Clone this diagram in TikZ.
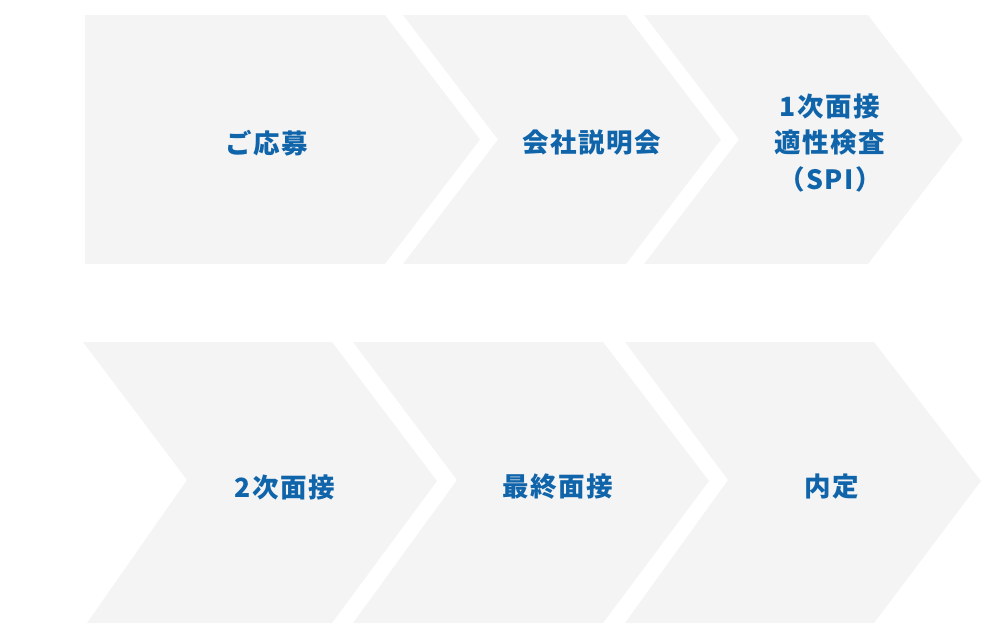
\documentclass[tikz,border=0pt]{standalone}
\usepackage{fontspec}
\newfontfamily\jpfont{Noto Sans CJK JP}[LetterSpace=6]
\definecolor{stepblue}{RGB}{16,100,170}
\definecolor{stepgray}{RGB}{244,244,244}

\begin{document}
\begin{tikzpicture}[x=1pt,y=-1pt]
  \tikzstyle{chevron}=[fill=stepgray]
  \tikzstyle{steplabel}=[text=stepblue,align=center,inner sep=0pt,
    font=\jpfont\bfseries\fontsize{26.5}{36.5}\selectfont]
  \useasboundingbox (0,0) rectangle (1000,641);

  % top row
  \fill[chevron] (85,15) -- (385,15) -- (480,139.5) -- (385,264) -- (85,264) -- cycle;
  \fill[chevron] (403,15) -- (626,15) -- (721,139.5) -- (626,264) -- (403,264) -- (498,139.5) -- cycle;
  \fill[chevron] (644,15) -- (868,15) -- (963,139.5) -- (868,264) -- (644,264) -- (739,139.5) -- cycle;

  % bottom row
  \fill[chevron] (83,342) -- (332,342) -- (437,481) -- (332,623) -- (87,623) -- (187,480) -- cycle;
  \fill[chevron] (353,342) -- (603,342) -- (709,481) -- (603,623) -- (353,623) -- (457,480) -- cycle;
  \fill[chevron] (625,342) -- (874,342) -- (981,481) -- (874,623) -- (625,623) -- (728,480) -- cycle;

  \node[steplabel] (apply)    at (267,143) {ご応募};
  \node[steplabel] (briefing) at (592,143) {会社説明会};
  \node[steplabel] (first)    at (830,143) {1次面接\\適性検査\\（SPI）};
  \node[steplabel] (second)   at (285,487) {2次面接};
  \node[steplabel] (final)    at (558,487) {最終面接};
  \node[steplabel] (offer)    at (832,487) {内定};
\end{tikzpicture}
\end{document}
